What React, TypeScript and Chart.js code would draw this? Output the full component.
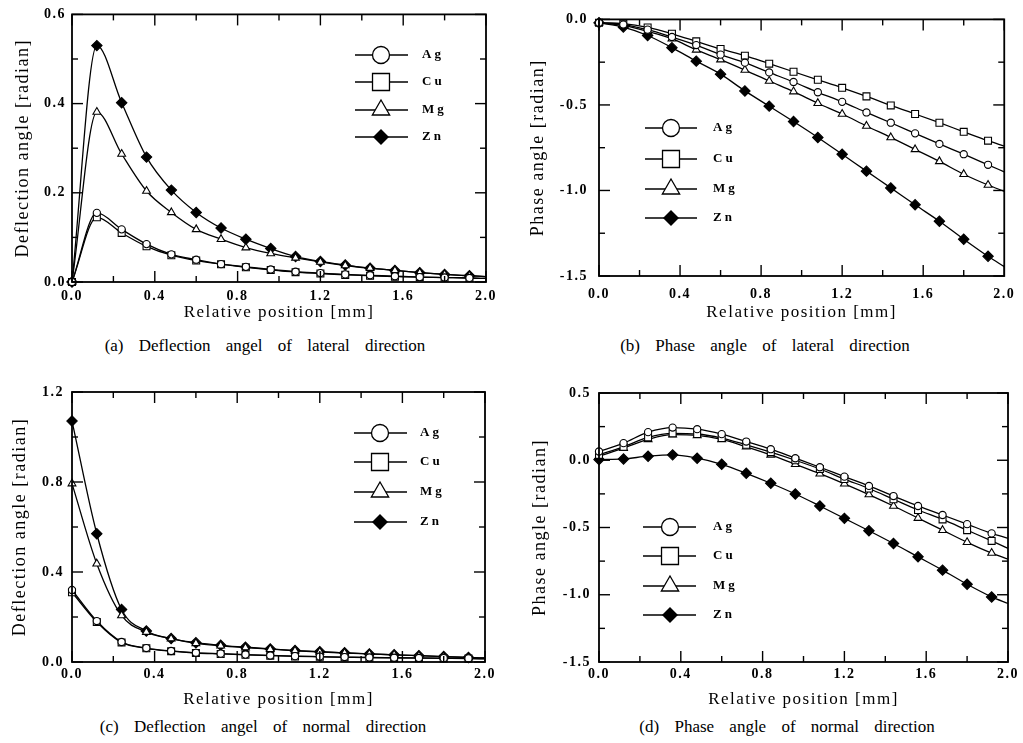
import React, { useEffect, useRef } from "react";
import { Chart, registerables } from "chart.js";

Chart.register(...registerables);

// ---------------- data ----------------
const positions = [0, 0.12, 0.24, 0.36, 0.48, 0.6, 0.72, 0.84, 0.96, 1.08, 1.2, 1.32, 1.44, 1.56, 1.68, 1.8, 1.92, 2.0];
const seriesNames = ["Ag", "Cu", "Mg", "Zn"];

// (a) deflection angle, lateral direction
const latDefAg = [0, 0.155, 0.118, 0.085, 0.062, 0.05, 0.04, 0.034, 0.028, 0.023, 0.02, 0.017, 0.015, 0.013, 0.011, 0.01, 0.009, 0.008];
const latDefCu = [0, 0.145, 0.11, 0.08, 0.06, 0.048, 0.04, 0.033, 0.027, 0.022, 0.019, 0.016, 0.014, 0.012, 0.011, 0.01, 0.009, 0.008];
const latDefMg = [0, 0.381, 0.287, 0.204, 0.156, 0.118, 0.096, 0.077, 0.064, 0.054, 0.045, 0.037, 0.031, 0.026, 0.021, 0.017, 0.014, 0.012];
const latDefZn = [0, 0.53, 0.402, 0.28, 0.206, 0.156, 0.121, 0.096, 0.075, 0.057, 0.046, 0.038, 0.031, 0.026, 0.021, 0.017, 0.014, 0.012];

// (b) phase angle, lateral direction
const latPhaAg = [-0.02, -0.03, -0.06, -0.103, -0.15, -0.206, -0.253, -0.31, -0.366, -0.426, -0.482, -0.544, -0.604, -0.666, -0.728, -0.788, -0.85, -0.891];
const latPhaCu = [-0.02, -0.025, -0.047, -0.084, -0.128, -0.173, -0.212, -0.259, -0.306, -0.353, -0.4, -0.45, -0.503, -0.553, -0.604, -0.657, -0.709, -0.741];
const latPhaMg = [-0.02, -0.035, -0.07, -0.113, -0.178, -0.235, -0.296, -0.36, -0.422, -0.49, -0.553, -0.623, -0.69, -0.76, -0.83, -0.905, -0.968, -1.005];
const latPhaZn = [-0.02, -0.045, -0.094, -0.165, -0.244, -0.32, -0.418, -0.507, -0.597, -0.69, -0.788, -0.887, -0.985, -1.084, -1.18, -1.285, -1.385, -1.445];

// (c) deflection angle, normal direction
const norDefAg = [0.32, 0.182, 0.089, 0.062, 0.049, 0.041, 0.037, 0.033, 0.029, 0.026, 0.024, 0.022, 0.02, 0.019, 0.018, 0.017, 0.016, 0.015];
const norDefCu = [0.31, 0.178, 0.087, 0.061, 0.048, 0.04, 0.036, 0.032, 0.028, 0.025, 0.023, 0.021, 0.019, 0.018, 0.017, 0.016, 0.015, 0.014];
const norDefMg = [0.793, 0.437, 0.207, 0.133, 0.104, 0.083, 0.072, 0.064, 0.057, 0.05, 0.045, 0.04, 0.036, 0.032, 0.028, 0.024, 0.02, 0.018];
const norDefZn = [1.071, 0.57, 0.233, 0.138, 0.104, 0.086, 0.074, 0.066, 0.058, 0.051, 0.046, 0.041, 0.036, 0.032, 0.028, 0.024, 0.02, 0.018];

// (d) phase angle, normal direction
const norPhaAg = [0.065, 0.127, 0.209, 0.243, 0.231, 0.194, 0.139, 0.082, 0.015, -0.052, -0.122, -0.191, -0.266, -0.34, -0.407, -0.475, -0.544, -0.58];
const norPhaCu = [0.04, 0.1, 0.17, 0.2, 0.195, 0.165, 0.115, 0.06, 0.0, -0.065, -0.14, -0.21, -0.29, -0.37, -0.44, -0.52, -0.6, -0.655];
const norPhaMg = [0.03, 0.09, 0.155, 0.19, 0.185, 0.155, 0.1, 0.04, -0.03, -0.1, -0.175, -0.255, -0.34, -0.43, -0.52, -0.61, -0.69, -0.735];
const norPhaZn = [0.005, 0.01, 0.03, 0.04, 0.015, -0.03, -0.097, -0.171, -0.251, -0.34, -0.432, -0.524, -0.619, -0.718, -0.817, -0.922, -1.016, -1.065];

const xTitle = "Relative position [mm]";
const captions = [
  "(a) Deflection angel of lateral direction",
  "(b) Phase angle of lateral direction",
  "(c) Deflection angel of normal direction",
  "(d) Phase angle of normal direction",
];

// ---------------- styles ----------------
const SERIF = "'Liberation Serif', 'Times New Roman', serif";

const markerStyles = [
  { pointStyle: "circle", radius: 3.6, fill: "#ffffff", legendRadius: 8.5 },
  { pointStyle: "rect", radius: 4.9, fill: "#ffffff", legendRadius: 12 },
  { pointStyle: "triangle", radius: 4.5, fill: "#ffffff", legendRadius: 10 },
  { pointStyle: "rectRot", radius: 5.2, fill: "#000000", legendRadius: 10 },
];

type Rect = { left: number; top: number; right: number; bottom: number };
type PanelCfg = {
  canvas: { left: number; top: number; width: number; height: number };
  plot: Rect;
  yMin: number;
  yMax: number;
  yStep: number;
  yMajor: number;
  yTitle: string;
  series: number[][];
  legend: { x1: number; x2: number; mx: number; tx: number; rows: number[] };
  xTickPad: number;
  yTickPad: number;
  xTitlePad: number;
  yTitlePad: number;
  caption: string;
  capX: number;
  capY: number;
};

const panels: PanelCfg[] = [
  {
    canvas: { left: 0, top: 0, width: 510, height: 330 },
    plot: { left: 72, top: 13, right: 486, bottom: 282 },
    yMin: 0, yMax: 0.6, yStep: 0.1, yMajor: 0.2,
    yTitle: "Deflection angle [radian]",
    series: [latDefAg, latDefCu, latDefMg, latDefZn],
    legend: { x1: 355, x2: 408, mx: 381, tx: 422, rows: [55, 82, 110, 137] },
    xTickPad: 6, yTickPad: 6, xTitlePad: 7, yTitlePad: 12,
    caption: captions[0], capX: 265, capY: 345,
  },
  {
    canvas: { left: 510, top: 0, width: 513, height: 330 },
    plot: { left: 599, top: 10, right: 1007, bottom: 276 },
    yMin: -1.5, yMax: 0, yStep: 0.25, yMajor: 0.5,
    yTitle: "Phase angle [radian]",
    series: [latPhaAg, latPhaCu, latPhaMg, latPhaZn],
    legend: { x1: 645, x2: 697, mx: 671, tx: 713, rows: [128, 159, 189, 218] },
    xTickPad: 10, yTickPad: 11, xTitlePad: 7, yTitlePad: 17,
    caption: captions[1], capX: 765, capY: 345,
  },
  {
    canvas: { left: 0, top: 370, width: 510, height: 345 },
    plot: { left: 72, top: 392, right: 485, bottom: 662 },
    yMin: 0, yMax: 1.2, yStep: 0.2, yMajor: 0.4,
    yTitle: "Deflection angle [radian]",
    series: [norDefAg, norDefCu, norDefMg, norDefZn],
    legend: { x1: 354, x2: 407, mx: 380, tx: 420, rows: [433, 462, 492, 522] },
    xTickPad: 4, yTickPad: 8, xTitlePad: 5, yTitlePad: 9,
    caption: captions[2], capX: 263, capY: 726,
  },
  {
    canvas: { left: 510, top: 370, width: 513, height: 345 },
    plot: { left: 599, top: 393, right: 1008, bottom: 662 },
    yMin: -1.5, yMax: 0.5, yStep: 0.25, yMajor: 0.5,
    yTitle: "Phase angle [radian]",
    series: [norPhaAg, norPhaCu, norPhaMg, norPhaZn],
    legend: { x1: 643, x2: 696, mx: 670, tx: 713, rows: [527, 556, 586, 615] },
    xTickPad: 4, yTickPad: 8, xTitlePad: 5, yTitlePad: 19,
    caption: captions[3], capX: 787, capY: 726,
  },
];

const isMajor = (v: number, step: number) => Math.abs(v / step - Math.round(v / step)) < 1e-6;

function drawMarker(ctx: CanvasRenderingContext2D, style: string, x: number, y: number, r: number) {
  ctx.beginPath();
  if (style === "circle") {
    ctx.arc(x, y, r, 0, Math.PI * 2);
  } else if (style === "rect") {
    const s = Math.SQRT1_2 * r;
    ctx.rect(x - s, y - s, 2 * s, 2 * s);
  } else if (style === "triangle") {
    const h = r * 1.5;
    const w = r * Math.sqrt(3);
    ctx.moveTo(x, y - r);
    ctx.lineTo(x + w / 2, y - r + h);
    ctx.lineTo(x - w / 2, y - r + h);
    ctx.closePath();
  } else {
    const s = Math.SQRT1_2 * r;
    ctx.moveTo(x - s, y);
    ctx.lineTo(x, y + s);
    ctx.lineTo(x + s, y);
    ctx.lineTo(x, y - s);
    ctx.closePath();
  }
  ctx.fill();
  ctx.stroke();
}

const framePlugin = {
  id: "frameTicks",
  beforeDraw(chart: any) {
    (chart.ctx as any).letterSpacing = "1.5px";
  },
  afterDatasetsDraw(chart: any, _args: any, opts: any) {
    const { ctx, chartArea: a, scales } = chart;
    ctx.save();
    ctx.strokeStyle = "#000";
    ctx.lineWidth = 1.4;
    const seg = (x1: number, y1: number, x2: number, y2: number) => {
      ctx.beginPath();
      ctx.moveTo(x1, y1);
      ctx.lineTo(x2, y2);
      ctx.stroke();
    };
    scales.x.ticks.forEach((t: any) => {
      const p = scales.x.getPixelForValue(t.value);
      const len = isMajor(t.value, opts.xMajor) ? 11 : 6;
      seg(p, a.bottom, p, a.bottom - len);
      seg(p, a.top, p, a.top + len);
    });
    scales.y.ticks.forEach((t: any) => {
      const p = scales.y.getPixelForValue(t.value);
      const len = isMajor(t.value, opts.yMajor) ? 11 : 6;
      seg(a.left, p, a.left + len, p);
      seg(a.right, p, a.right - len, p);
    });
    ctx.lineWidth = 1.8;
    ctx.strokeRect(a.left, a.top, a.right - a.left, a.bottom - a.top);
    ctx.restore();
  },
};

const legendPlugin = {
  id: "insideLegend",
  afterDraw(chart: any, _args: any, opts: any) {
    const { ctx } = chart;
    ctx.save();
    ctx.strokeStyle = "#000";
    ctx.fillStyle = "#000";
    chart.data.datasets.forEach((ds: any, i: number) => {
      const y = opts.rows[i];
      ctx.lineWidth = 1.6;
      ctx.beginPath();
      ctx.moveTo(opts.x1, y);
      ctx.lineTo(opts.x2, y);
      ctx.stroke();
      const m = markerStyles[i];
      ctx.fillStyle = m.fill;
      ctx.lineWidth = 1.3;
      drawMarker(ctx, m.pointStyle, opts.mx, y, m.legendRadius);
      ctx.fillStyle = "#000";
      ctx.letterSpacing = "3px";
      ctx.font = `bold 13px ${SERIF}`;
      ctx.textAlign = "left";
      ctx.textBaseline = "middle";
      ctx.fillText(ds.label, opts.tx, y);
    });
    ctx.restore();
  },
};

function Panel({ cfg }: { cfg: PanelCfg }) {
  const ref = useRef<HTMLCanvasElement | null>(null);
  useEffect(() => {
    const c = cfg.canvas;
    const p = cfg.plot;
    const datasets = cfg.series.map((vals, i) => {
      const m = markerStyles[i];
      return {
        label: seriesNames[i],
        data: positions.map((x, j) => ({ x, y: vals[j] })),
        borderColor: "#000",
        borderWidth: 1.3,
        backgroundColor: m.fill,
        pointStyle: m.pointStyle,
        pointBackgroundColor: m.fill,
        pointBorderColor: "#000",
        pointBorderWidth: 1.1,
        pointRadius: (ctx: any) => (ctx.raw && ctx.raw.x > 1.95 ? 0 : m.radius),
        cubicInterpolationMode: "monotone",
        fill: false,
        clip: false,
      };
    });
    const tickFont = { family: SERIF, size: 14, weight: "bold" as const };
    const chart = new Chart(ref.current!, {
      type: "line",
      data: { datasets } as any,
      plugins: [framePlugin, legendPlugin],
      options: {
        animation: false,
        responsive: false,
        devicePixelRatio: 1,
        layout: {
          padding: { left: 0, top: p.top - c.top, right: c.left + c.width - p.right, bottom: 0 },
        },
        plugins: {
          legend: { display: false },
          tooltip: { enabled: false },
          frameTicks: { xMajor: 0.4, yMajor: cfg.yMajor },
          insideLegend: {
            x1: cfg.legend.x1 - c.left,
            x2: cfg.legend.x2 - c.left,
            mx: cfg.legend.mx - c.left,
            tx: cfg.legend.tx - c.left,
            rows: cfg.legend.rows.map((r) => r - c.top),
          },
        } as any,
        scales: {
          x: {
            type: "linear",
            min: 0,
            max: 2,
            grid: { display: false, drawTicks: false },
            border: { display: false },
            ticks: {
              stepSize: 0.2,
              autoSkip: false,
              maxRotation: 0,
              padding: cfg.xTickPad,
              color: "#000",
              font: tickFont,
              callback: (v: any) => (isMajor(Number(v), 0.4) ? Number(v).toFixed(1) : ""),
            },
            title: {
              display: true,
              text: xTitle,
              color: "#000",
              font: { family: SERIF, size: 17 },
              padding: { top: 0, bottom: cfg.xTitlePad },
            },
            afterFit: (scale: any) => {
              scale.height = c.top + c.height - p.bottom;
            },
          },
          y: {
            type: "linear",
            min: cfg.yMin,
            max: cfg.yMax,
            grid: { display: false, drawTicks: false },
            border: { display: false },
            ticks: {
              stepSize: cfg.yStep,
              autoSkip: false,
              padding: cfg.yTickPad,
              color: "#000",
              font: tickFont,
              callback: (v: any) => (isMajor(Number(v), cfg.yMajor) ? Number(v).toFixed(1) : ""),
            },
            title: {
              display: true,
              text: cfg.yTitle,
              color: "#000",
              font: { family: SERIF, size: 18 },
              padding: { top: cfg.yTitlePad, bottom: 0 },
            },
            afterFit: (scale: any) => {
              scale.width = p.left - c.left;
            },
          },
        },
      } as any,
    });
    return () => chart.destroy();
  }, [cfg]);
  const c = cfg.canvas;
  return (
    <canvas
      ref={ref}
      width={c.width}
      height={c.height}
      style={{ position: "absolute", left: c.left, top: c.top, width: c.width, height: c.height }}
    />
  );
}

export default function App() {
  return (
    <div
      style={{
        position: "absolute",
        left: 0,
        top: 0,
        width: 1023,
        height: 743,
        background: "#fff",
        overflow: "hidden",
      }}
    >
      {panels.map((cfg, i) => (
        <Panel key={i} cfg={cfg} />
      ))}
      {panels.map((cfg, i) => (
        <div
          key={"cap" + i}
          style={{
            position: "absolute",
            left: cfg.capX,
            top: cfg.capY,
            transform: "translate(-50%, -50%)",
            fontFamily: SERIF,
            fontSize: 17,
            wordSpacing: 11,
            whiteSpace: "nowrap",
            color: "#000",
            lineHeight: 1,
          }}
        >
          {cfg.caption}
        </div>
      ))}
    </div>
  );
}
